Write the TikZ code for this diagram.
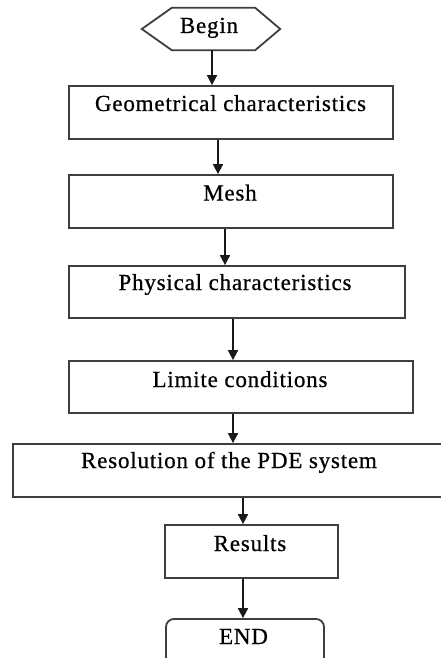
\documentclass[tikz,border=0pt]{standalone}
\usepackage{fontspec}
\setmainfont{Liberation Serif}[LetterSpace=3.5,FakeBold=0.6]
\usetikzlibrary{arrows.meta}
\definecolor{boxgray}{RGB}{62,62,62}
\definecolor{arrowblack}{RGB}{25,25,25}
\begin{document}
\begin{tikzpicture}[x=1pt,y=-1pt,
  box/.style={draw=boxgray, line width=1.8pt, inner sep=0pt, fill=white},
  lbl/.style={font=\fontsize{23}{27}\selectfont, anchor=base, inner sep=0pt, text=black},
  arr/.style={draw=arrowblack, line width=1.7pt, -{Triangle[width=10pt,length=10pt]}}]
\useasboundingbox (0,0) rectangle (440,658);
% begin hexagon (node frame)
\node[inner sep=0pt, minimum width=138pt, minimum height=42pt] (begin) at (211,29) {};
\draw[boxgray, line width=1.8pt, line join=miter] (begin.west) -- ([xshift=30pt]begin.north west) -- ([xshift=-25pt]begin.north east) -- (begin.east) -- ([xshift=-25pt]begin.south east) -- ([xshift=30pt]begin.south west) -- cycle;
% boxes
\node[box, minimum width=324pt, minimum height=53pt] (b1) at (231,112.5) {};
\node[box, minimum width=324pt, minimum height=53pt] (b2) at (231,201.5) {};
\node[box, minimum width=336pt, minimum height=52pt] (b3) at (237,292) {};
\node[box, minimum width=344pt, minimum height=52pt] (b4) at (241,387) {};
\node[box, minimum width=433pt, minimum height=53pt] (b5) at (229.5,470.5) {};
\node[box, minimum width=173pt, minimum height=53pt] (b6) at (251.5,551.5) {};
\node[box, rounded corners=8pt, minimum width=158pt, minimum height=52pt] (e) at (245,645) {};
% labels
\node[lbl] (t0) at (209,33) {Begin};
\node[lbl] (t1) at (230.5,111) {Geometrical characteristics};
\node[lbl] (t2) at (230,200.5) {Mesh};
\node[lbl] (t3) at (235,290) {Physical characteristics};
\node[lbl] (t4) at (240,387) {Limite conditions};
\node[lbl] (t5) at (229,468) {Resolution of the PDE system};
\node[lbl] (t6) at (250,551) {Results};
\node[lbl] (t7) at (243.5,644) {END};
% arrows
\draw[arr] ([xshift=1pt]begin.south) -- ([xshift=1pt]begin.south |- b1.north);
\draw[arr] ([xshift=-13pt]b1.south) -- ([xshift=-13pt]b1.south |- b2.north);
\draw[arr] ([xshift=-6pt]b2.south) -- ([xshift=-6pt]b2.south |- b3.north);
\draw[arr] ([xshift=-4pt]b3.south) -- ([xshift=-4pt]b3.south |- b4.north);
\draw[arr] ([xshift=-8pt]b4.south) -- ([xshift=-8pt]b4.south |- b5.north);
\draw[arr] ([xshift=13.5pt]b5.south) -- ([xshift=13.5pt]b5.south |- b6.north);
\draw[arr] ([xshift=-8.5pt]b6.south) -- ([xshift=-8.5pt]b6.south |- e.north);
\end{tikzpicture}
\end{document}
